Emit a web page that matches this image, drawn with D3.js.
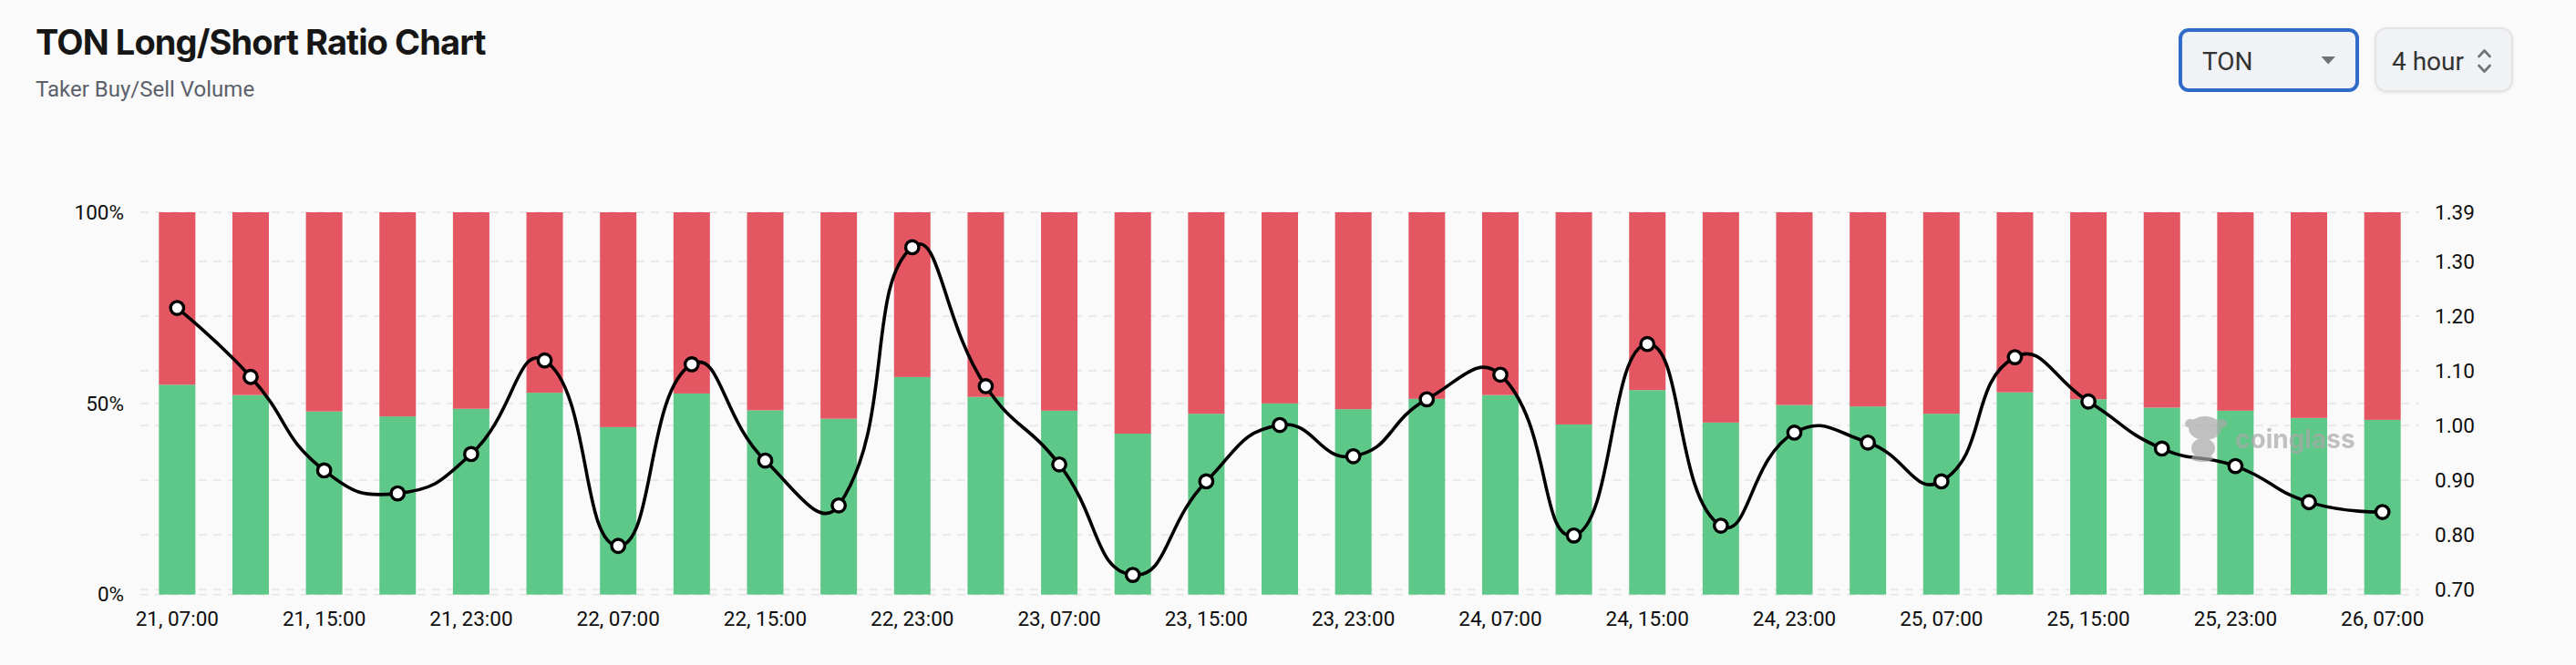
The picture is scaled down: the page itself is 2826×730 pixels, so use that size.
<!DOCTYPE html>
<html>
<head>
<meta charset="utf-8">
<script src="https://cdn.jsdelivr.net/npm/d3@7/dist/d3.min.js"></script>
<style>
  html, body { margin: 0; padding: 0; background: #fafafa; }
  svg { display: block; }
</style>
</head>
<body>
<svg id="chart" width="2826" height="730"></svg>
<script>
// ---------- data ----------
const categories = [
  "21, 07:00","21, 11:00","21, 15:00","21, 19:00","21, 23:00",
  "22, 03:00","22, 07:00","22, 11:00","22, 15:00","22, 19:00","22, 23:00",
  "23, 03:00","23, 07:00","23, 11:00","23, 15:00","23, 19:00","23, 23:00",
  "24, 03:00","24, 07:00","24, 11:00","24, 15:00","24, 19:00","24, 23:00",
  "25, 03:00","25, 07:00","25, 11:00","25, 15:00","25, 19:00","25, 23:00",
  "26, 03:00","26, 07:00"
];
// taker buy share (%) – green part of each bar
const longPct = [
  54.9, 52.2, 47.9, 46.6, 48.6,
  52.8, 43.8, 52.6, 48.2, 46.0, 56.9,
  51.7, 48.1, 42.1, 47.3, 50.0, 48.5,
  51.2, 52.2, 44.5, 53.5, 45.0, 49.6,
  49.2, 47.3, 52.9, 51.1, 48.9, 48.1,
  46.2, 45.7
];
// buy/sell ratio – line on right axis
const ratio = [
  1.215, 1.089, 0.918, 0.876, 0.948,
  1.119, 0.780, 1.112, 0.936, 0.854, 1.326,
  1.072, 0.929, 0.727, 0.898, 1.001, 0.944,
  1.048, 1.093, 0.799, 1.149, 0.817, 0.987,
  0.969, 0.898, 1.125, 1.044, 0.958, 0.926,
  0.860, 0.842
];
const leftTicks = [0, 50, 100];
const rightTicks = [0.70, 0.80, 0.90, 1.00, 1.10, 1.20, 1.30, 1.39];
const rightDomain = [0.691, 1.39];
const xLabelTicks = categories.filter((d, i) => i % 2 === 0);

const titleText = "TON Long/Short Ratio Chart";
const subtitleText = "Taker Buy/Sell Volume";

// ---------- layout ----------
const svg = d3.select("#chart");
const plot = { left: 154, right: 2654, top: 233, bottom: 652.7 };
const GREEN = "#5ec888", RED = "#e35662";
const FONT = "Roboto, 'Noto Sans', sans-serif";

const x = d3.scaleBand().domain(categories)
  .range([plot.left, plot.right]).paddingInner(0.504).paddingOuter(0.252);
const yL = d3.scaleLinear().domain([0, 100]).range([plot.bottom, plot.top]);
const yR = d3.scaleLinear().domain(rightDomain).range([plot.bottom, plot.top]);

svg.append("rect").attr("width", 2826).attr("height", 730).attr("fill", "#fafafa");

// ---------- header ----------
svg.append("text").attr("x", 39).attr("y", 60)
  .attr("font-family", "Inter, 'Noto Sans', sans-serif").attr("font-weight", 700)
  .attr("font-size", 38).attr("letter-spacing", "-0.9px").attr("fill", "#161616")
  .text(titleText);
svg.append("text").attr("x", 39).attr("y", 106)
  .attr("font-family", FONT).attr("font-size", 24).attr("fill", "#5b606a")
  .text(subtitleText);

// controls
const ctl = svg.append("g");
ctl.append("rect").attr("x", 2392).attr("y", 33).attr("width", 194).attr("height", 66)
  .attr("rx", 9).attr("fill", "#f0f2f5").attr("stroke", "#2f6bc8").attr("stroke-width", 4);
ctl.append("text").attr("x", 2416).attr("y", 77).attr("font-family", FONT)
  .attr("font-size", 28).attr("fill", "#333").text("TON");
ctl.append("path").attr("d", "M2546.5,62 L2562,62 L2554.2,70.5 Z").attr("fill", "#6f7277");

const defs = svg.append("defs");
const f = defs.append("filter").attr("id", "sh").attr("x", "-10%").attr("y", "-10%")
  .attr("width", "120%").attr("height", "130%");
f.append("feDropShadow").attr("dx", 0).attr("dy", 1).attr("stdDeviation", 1.5)
  .attr("flood-color", "#000").attr("flood-opacity", 0.08);
ctl.append("rect").attr("x", 2606).attr("y", 31).attr("width", 150).attr("height", 69)
  .attr("rx", 12).attr("fill", "#f0f2f5").attr("stroke", "#e3e3e3").attr("stroke-width", 2)
  .attr("filter", "url(#sh)");
ctl.append("text").attr("x", 2624).attr("y", 77).attr("font-family", FONT)
  .attr("font-size", 28).attr("fill", "#333").text("4 hour");
ctl.append("path").attr("d", "M2719.5,62 L2725.5,55.5 L2731.5,62 M2719.5,72 L2725.5,78.5 L2731.5,72")
  .attr("fill", "none").attr("stroke", "#6f7277").attr("stroke-width", 2.6)
  .attr("stroke-linecap", "round").attr("stroke-linejoin", "round");

// ---------- grid ----------
const grid = svg.append("g");
const gridYs = leftTicks.map(d => yL(d)).concat(rightTicks.map(d => yR(d)));
grid.selectAll("line").data(gridYs).join("line")
  .attr("x1", plot.left).attr("x2", plot.right)
  .attr("y1", d => d).attr("y2", d => d)
  .attr("stroke", "#e9e9e9").attr("stroke-width", 2).attr("stroke-dasharray", "9 7");

// ---------- bars ----------
const bars = svg.append("g");
bars.selectAll("rect.g").data(categories).join("rect").attr("class", "g")
  .attr("x", d => x(d)).attr("width", x.bandwidth())
  .attr("y", (d, i) => yL(longPct[i]))
  .attr("height", (d, i) => yL(0) - yL(longPct[i]))
  .attr("fill", GREEN);
bars.selectAll("rect.r").data(categories).join("rect").attr("class", "r")
  .attr("x", d => x(d)).attr("width", x.bandwidth())
  .attr("y", yL(100))
  .attr("height", (d, i) => yL(longPct[i]) - yL(100))
  .attr("fill", RED);

// ---------- axes ----------
const axisStyle = g => {
  g.select(".domain").remove();
  g.selectAll("text").attr("font-family", FONT).attr("font-size", 22.5).attr("fill", "#0d0d0d");
};
svg.append("g").attr("transform", `translate(0,${plot.bottom})`)
  .call(d3.axisBottom(x).tickValues(xLabelTicks).tickSize(0).tickPadding(18))
  .call(axisStyle);
svg.append("g").attr("transform", `translate(${plot.left},0)`)
  .call(d3.axisLeft(yL).tickValues(leftTicks).tickFormat(d => d + "%").tickSize(0).tickPadding(18))
  .call(axisStyle);
svg.append("g").attr("transform", `translate(${plot.right},0)`)
  .call(d3.axisRight(yR).tickValues(rightTicks).tickFormat(d3.format(".2f")).tickSize(0).tickPadding(17))
  .call(axisStyle);

// ---------- smooth line (ECharts-like smoothing) ----------
function curveSmooth(context) {
  let pts;
  return {
    areaStart() {}, areaEnd() {},
    lineStart() { pts = []; },
    point(px, py) { pts.push([+px, +py]); },
    lineEnd() {
      const s = 0.5, n = pts.length;
      if (!n) return;
      context.moveTo(pts[0][0], pts[0][1]);
      let cp0 = pts[0];
      for (let k = 1; k < n; k++) {
        const [cx, cy] = pts[k], [px, py] = pts[k - 1];
        let ncp, vx = 0, vy = 0, r = 0.5;
        if (k === n - 1) ncp = [cx, cy];
        else {
          const [nx, ny] = pts[k + 1];
          vx = nx - px; vy = ny - py;
          const l0 = Math.hypot(cx - px, cy - py), l1 = Math.hypot(nx - cx, ny - cy);
          r = l1 / (l0 + l1);
          ncp = [cx - vx * s * (1 - r), cy - vy * s * (1 - r)];
        }
        context.bezierCurveTo(cp0[0], cp0[1], ncp[0], ncp[1], cx, cy);
        cp0 = [cx + vx * s * r, cy + vy * s * r];
      }
    }
  };
}
const line = d3.line()
  .x((d, i) => x(categories[i]) + x.bandwidth() / 2)
  .y(d => yR(d))
  .curve(curveSmooth);
svg.append("path").datum(ratio).attr("d", line)
  .attr("fill", "none").attr("stroke", "#000").attr("stroke-width", 3.6);
svg.append("g").selectAll("circle").data(ratio).join("circle")
  .attr("cx", (d, i) => x(categories[i]) + x.bandwidth() / 2)
  .attr("cy", d => yR(d)).attr("r", 7.2)
  .attr("fill", "#fff").attr("stroke", "#000").attr("stroke-width", 3.4);

// ---------- watermark ----------
const wm = svg.append("g").attr("opacity", 0.7).attr("fill", "#a8a8a8");
wm.append("ellipse").attr("cx", 2419).attr("cy", 470).attr("rx", 18).attr("ry", 13);
wm.append("ellipse").attr("cx", 2403).attr("cy", 465).attr("rx", 6).attr("ry", 5);
wm.append("ellipse").attr("cx", 2437).attr("cy", 465).attr("rx", 6).attr("ry", 5);
wm.append("ellipse").attr("cx", 2417).attr("cy", 492).attr("rx", 13).attr("ry", 11);
wm.append("ellipse").attr("cx", 2416).attr("cy", 503).attr("rx", 12).attr("ry", 4);
wm.append("text").attr("x", 2452).attr("y", 492)
  .attr("font-family", "Inter, 'Noto Sans', sans-serif").attr("font-weight", 700)
  .attr("font-size", 28).text("coinglass");
</script>
</body>
</html>
